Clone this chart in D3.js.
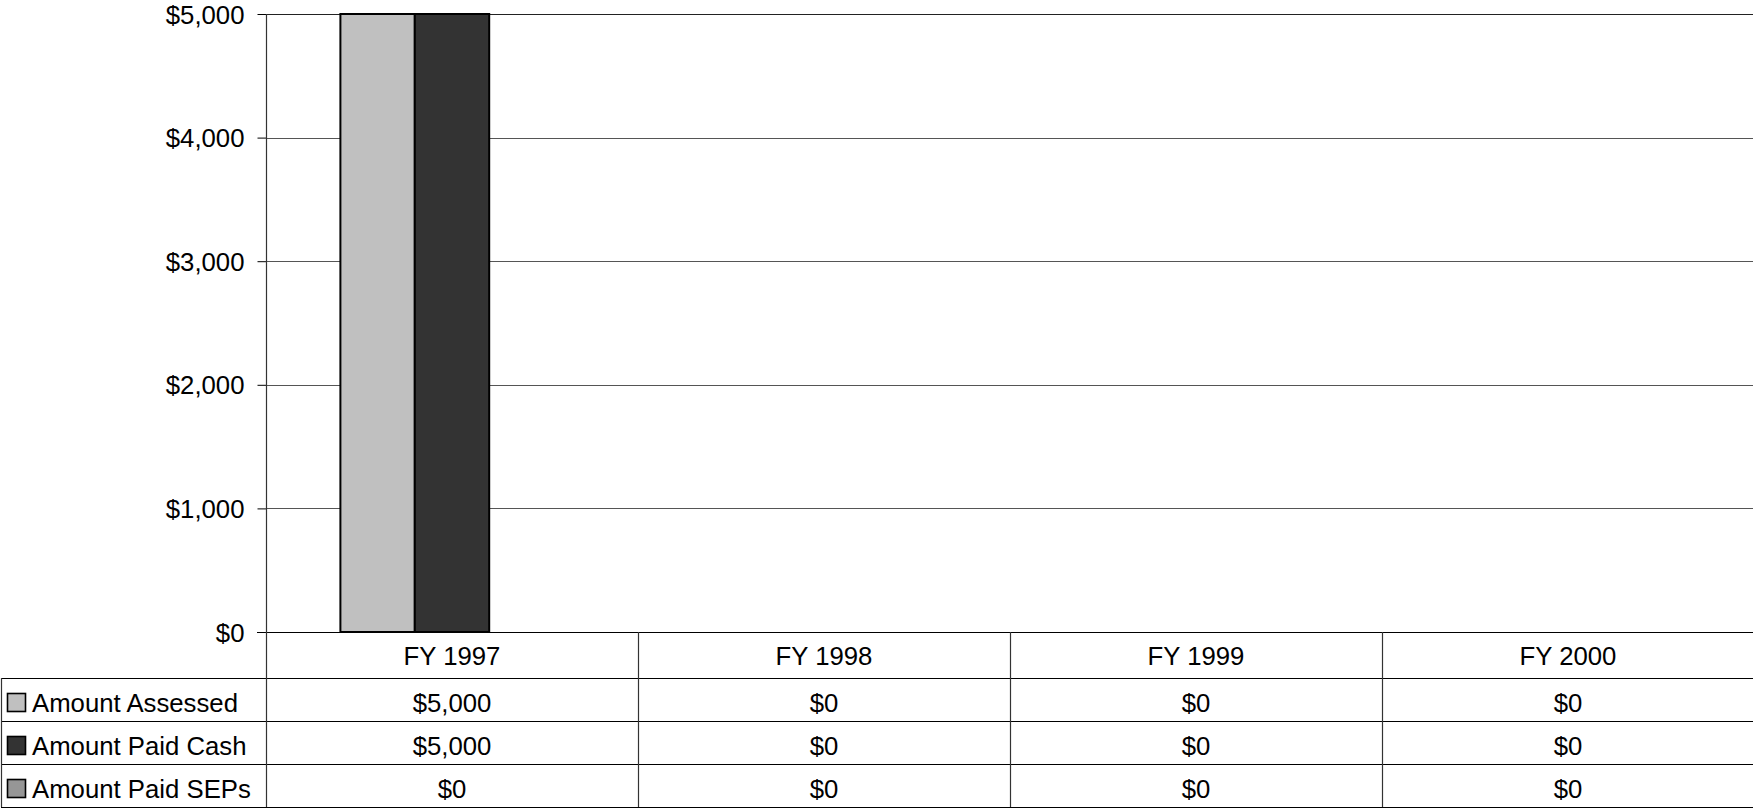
<!DOCTYPE html>
<html><head><meta charset="utf-8">
<script src="https://cdn.jsdelivr.net/npm/d3@7"></script>
<style>
html,body{margin:0;padding:0;background:#fff;}
svg{display:block;}
text{font-family:"Liberation Sans",Arial,sans-serif;fill:#000;}
</style></head>
<body>
<svg id="c" width="1753" height="809"></svg>
<script>
const categories = ["FY 1997", "FY 1998", "FY 1999", "FY 2000"];
const seriesNames = ["Amount Assessed", "Amount Paid Cash", "Amount Paid SEPs"];
const assessed = [5000, 0, 0, 0];
const paidCash = [5000, 0, 0, 0];
const paidSEPs = [0, 0, 0, 0];
const seriesValues = [assessed, paidCash, paidSEPs];
const seriesColors = ["#C0C0C0", "#333333", "#969696"];
const yTicks = [0, 1000, 2000, 3000, 4000, 5000];

const svg = d3.select("#c");
const plotL = 266, plotR = 1754, plotT = 14, plotB = 632;
const rowLines = [678, 721, 764, 807];
const tableBottom = 807;
const fs = 25, sx = 1.03;
const fmt = v => "$" + d3.format(",")(v);

const y = d3.scaleLinear().domain([0, 5000]).range([plotB, plotT]);
const x = d3.scaleBand().domain(categories).range([plotL, plotR]).padding(0);
const xs = d3.scaleBand().domain(seriesNames).range([x.bandwidth() * 0.2, x.bandwidth() * 0.8]).padding(0);

function txt(g, s, tx, ty, anchor) {
  return g.append("text")
    .attr("transform", `translate(${tx},${ty}) scale(${sx},1)`)
    .attr("text-anchor", anchor)
    .attr("font-size", fs)
    .text(s);
}

// gridlines
const grid = svg.append("g");
grid.selectAll("line").data(yTicks.filter(t => t > 0)).join("line")
  .attr("x1", plotL).attr("x2", plotR)
  .attr("y1", d => Math.round(y(d)) + 0.5).attr("y2", d => Math.round(y(d)) + 0.5)
  .attr("stroke", d => d === 5000 ? "#222" : "#555").attr("stroke-width", 1);

// y axis
const yAxis = d3.axisLeft(y).tickValues(yTicks).tickSize(9).tickPadding(12).tickFormat(fmt);
const ya = svg.append("g").attr("transform", `translate(${plotL + 0.5},0)`).call(yAxis);
ya.select(".domain").remove();
ya.selectAll(".tick line").attr("stroke", "#000");
ya.selectAll(".tick text").remove();
ya.selectAll(".tick").each(function(d) {
  txt(d3.select(this), fmt(d), -22, 9, "end");
});

// bars
const bars = svg.append("g");
seriesNames.forEach((s, si) => {
  bars.selectAll(null).data(categories.map((c, ci) => ({c, v: seriesValues[si][ci]})).filter(d => d.v > 0))
    .join("rect")
    .attr("x", d => x(d.c) + xs(s))
    .attr("width", xs.bandwidth())
    .attr("y", d => y(d.v))
    .attr("height", d => y(0) - y(d.v))
    .attr("fill", seriesColors[si])
    .attr("stroke", "#000").attr("stroke-width", 2);
});

// table lines
const tl = svg.append("g").attr("stroke", "#000").attr("stroke-width", 1.2);
tl.append("line").attr("x1", plotL - 9).attr("x2", plotR).attr("y1", plotB + 0.5).attr("y2", plotB + 0.5);
rowLines.forEach(r => tl.append("line").attr("x1", 1).attr("x2", plotR).attr("y1", r + 0.5).attr("y2", r + 0.5));
tl.append("line").attr("x1", plotL + 0.5).attr("x2", plotL + 0.5).attr("y1", plotT).attr("y2", tableBottom).attr("stroke", "#333");
tl.append("line").attr("x1", 1.5).attr("x2", 1.5).attr("y1", rowLines[0]).attr("y2", tableBottom).attr("stroke", "#333");
categories.slice(1).forEach(c => tl.append("line").attr("x1", Math.round(x(c)) + 0.5).attr("x2", Math.round(x(c)) + 0.5).attr("y1", plotB).attr("y2", tableBottom).attr("stroke", "#333"));

// header row
const tg = svg.append("g");
categories.forEach(c => txt(tg, c, x(c) + x.bandwidth() / 2, 665, "middle"));

// data rows
seriesNames.forEach((s, si) => {
  const top = rowLines[si], bot = rowLines[si + 1];
  const base = (top + bot) / 2 + 12;
  tg.append("rect").attr("x", 7.5).attr("y", (top + bot) / 2 - 6)
    .attr("width", 18).attr("height", 18)
    .attr("fill", seriesColors[si]).attr("stroke", "#000").attr("stroke-width", 1.6);
  txt(tg, s, 32, base, "start");
  categories.forEach((c, ci) => txt(tg, fmt(seriesValues[si][ci]), x(c) + x.bandwidth() / 2, base, "middle"));
});
</script>
</body></html>
